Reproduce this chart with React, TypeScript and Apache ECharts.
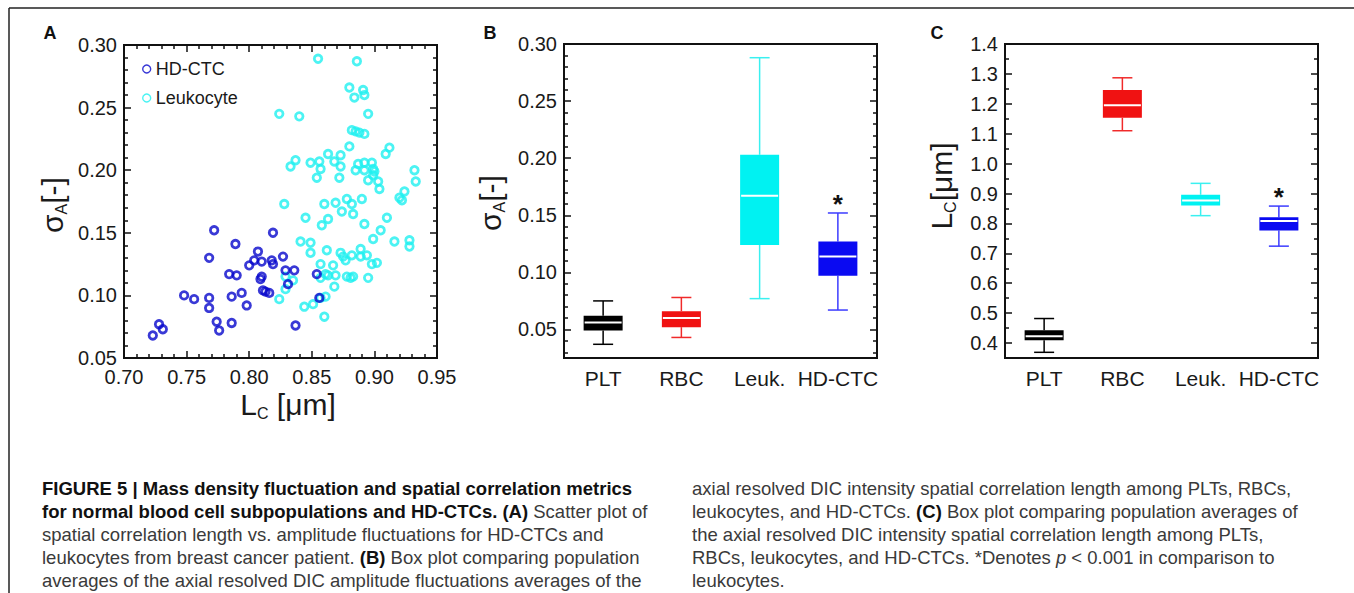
import React, { useEffect, useRef } from "react";
import * as echarts from "echarts";

// ---------- data ----------
const categories = ["PLT", "RBC", "Leuk.", "HD-CTC"];

// Panel A: [Lc (µm), sigma_A]
const hdCtcPoints: [number, number][] = [
  [0.723, 0.068], [0.728, 0.077], [0.731, 0.073], [0.748, 0.100], [0.756, 0.097],
  [0.768, 0.098], [0.768, 0.090], [0.768, 0.130], [0.772, 0.152], [0.774, 0.079],
  [0.776, 0.072], [0.784, 0.117], [0.786, 0.099], [0.786, 0.078], [0.789, 0.141],
  [0.790, 0.116], [0.794, 0.102], [0.798, 0.092], [0.800, 0.124], [0.804, 0.128],
  [0.807, 0.135], [0.809, 0.113], [0.810, 0.115], [0.810, 0.127], [0.811, 0.104],
  [0.813, 0.103], [0.816, 0.102], [0.818, 0.128], [0.819, 0.125], [0.819, 0.150],
  [0.827, 0.131], [0.829, 0.120], [0.831, 0.109], [0.836, 0.120], [0.837, 0.076],
  [0.854, 0.117], [0.856, 0.098],
];

const leukocytePoints: [number, number][] = [
  [0.855, 0.289], [0.886, 0.287], [0.880, 0.266], [0.891, 0.264], [0.892, 0.260],
  [0.884, 0.258], [0.824, 0.245], [0.840, 0.243], [0.895, 0.245], [0.882, 0.232],
  [0.885, 0.231], [0.888, 0.230], [0.892, 0.229], [0.880, 0.219], [0.912, 0.218],
  [0.909, 0.213], [0.863, 0.213], [0.873, 0.212], [0.837, 0.208], [0.833, 0.203],
  [0.849, 0.206], [0.856, 0.207], [0.857, 0.201], [0.854, 0.194], [0.868, 0.207],
  [0.873, 0.203], [0.872, 0.194], [0.887, 0.205], [0.892, 0.206], [0.898, 0.206],
  [0.885, 0.200], [0.892, 0.200], [0.899, 0.201], [0.900, 0.199], [0.895, 0.192],
  [0.899, 0.196], [0.903, 0.191], [0.904, 0.185], [0.932, 0.200], [0.933, 0.191],
  [0.924, 0.183], [0.920, 0.178], [0.922, 0.176], [0.828, 0.173], [0.860, 0.173],
  [0.869, 0.174], [0.878, 0.177], [0.882, 0.173], [0.890, 0.177], [0.874, 0.167],
  [0.883, 0.165], [0.845, 0.162], [0.863, 0.161], [0.858, 0.156], [0.892, 0.157],
  [0.910, 0.162], [0.905, 0.152], [0.899, 0.145], [0.916, 0.143], [0.928, 0.144],
  [0.928, 0.139], [0.841, 0.143], [0.849, 0.142], [0.849, 0.134], [0.862, 0.136],
  [0.873, 0.134], [0.875, 0.131], [0.877, 0.128], [0.882, 0.132], [0.889, 0.137],
  [0.889, 0.131], [0.894, 0.132], [0.898, 0.125], [0.902, 0.126], [0.857, 0.125],
  [0.867, 0.124], [0.861, 0.117], [0.863, 0.116], [0.869, 0.116], [0.878, 0.115],
  [0.881, 0.114], [0.883, 0.115], [0.895, 0.114], [0.868, 0.107], [0.829, 0.115],
  [0.835, 0.112], [0.829, 0.105], [0.824, 0.097], [0.844, 0.091], [0.851, 0.093],
  [0.857, 0.098], [0.861, 0.099], [0.860, 0.083], [0.857, 0.114],
];

// Panels B and C: [min, Q1, median, Q3, max] per category
const sigmaBoxes: number[][] = [
  [0.037, 0.049, 0.056, 0.062, 0.075],
  [0.043, 0.052, 0.060, 0.066, 0.078],
  [0.077, 0.124, 0.167, 0.203, 0.288],
  [0.067, 0.097, 0.114, 0.127, 0.152],
];
const lcBoxes: number[][] = [
  [0.369, 0.409, 0.423, 0.443, 0.482],
  [1.110, 1.153, 1.195, 1.246, 1.287],
  [0.826, 0.860, 0.877, 0.896, 0.934],
  [0.724, 0.776, 0.808, 0.821, 0.858],
];
const sigmaStars = ["", "", "", "*"];
const lcStars = ["", "", "", "*"];

// tick labels
const lcScatterTicks = [0.7, 0.75, 0.8, 0.85, 0.9, 0.95];
const sigmaScatterTicks = [0.05, 0.1, 0.15, 0.2, 0.25, 0.3];
const sigmaBoxTicks = [0.05, 0.1, 0.15, 0.2, 0.25, 0.3];
const lcBoxTicks = [0.4, 0.5, 0.6, 0.7, 0.8, 0.9, 1.0, 1.1, 1.2, 1.3, 1.4];

// ---------- styles ----------
const FONT = '"Liberation Sans", Arial, Helvetica, sans-serif';
const CAP_FONT = '"Liberation Sans", Arial, sans-serif';
const TEXT = "#1a1a1a";
const BLUE_PT = "#0808cc";
const CYAN_PT = "#1ff0f0";
const boxFill = ["#000000", "#f01212", "#00f2f2", "#0a0af2"];
const whiskerColor = ["#000000", "#f02a2a", "#3af0f0", "#3c3cff"];

function minorTicks(lo: number, hi: number, step: number, majors: number[]) {
  const out: number[] = [];
  const n = Math.round((hi - lo) / step);
  for (let k = 0; k <= n; k++) {
    const v = Math.round((lo + k * step) * 10000) / 10000;
    if (!majors.some((m) => Math.abs(m - v) < 1e-6)) out.push(v);
  }
  return out;
}

const tickLine = { color: "#111", width: 1.5 };

function axisSet(
  kind: "x" | "y",
  gridIndex: number,
  min: number,
  max: number,
  majors: number[],
  minors: number[],
  decimals: number,
  sides: [string, string]
) {
  const base = {
    type: "value",
    gridIndex,
    min,
    max,
    splitLine: { show: false },
    axisLine: { show: false },
  };
  const label = {
    show: true,
    customValues: majors,
    formatter: (v: number) => v.toFixed(decimals),
    fontSize: 20,
    color: TEXT,
    fontFamily: FONT,
    margin: kind === "x" ? 9 : 7,
  };
  return [
    { ...base, position: sides[0], axisTick: { show: true, inside: true, length: 7, lineStyle: tickLine, customValues: majors }, axisLabel: label },
    { ...base, position: sides[0], axisTick: { show: true, inside: true, length: 4, lineStyle: tickLine, customValues: minors }, axisLabel: { show: false } },
    { ...base, position: sides[1], axisTick: { show: true, inside: true, length: 7, lineStyle: tickLine, customValues: majors }, axisLabel: { show: false } },
    { ...base, position: sides[1], axisTick: { show: true, inside: true, length: 4, lineStyle: tickLine, customValues: minors }, axisLabel: { show: false } },
  ];
}

function boxRenderer(stars: string[]) {
  return (params: any, api: any) => {
    const i = api.value(0);
    const pMin = api.coord([i, api.value(1)]);
    const yQ1 = api.coord([i, api.value(2)])[1];
    const yMed = api.coord([i, api.value(3)])[1];
    const yQ3 = api.coord([i, api.value(4)])[1];
    const yMax = api.coord([i, api.value(5)])[1];
    const x = pMin[0];
    const yMin = pMin[1];
    const bw = 39;
    const cw = 20;
    const ws = { stroke: whiskerColor[i], lineWidth: 1.5 };
    const children: any[] = [
      { type: "line", shape: { x1: x, y1: yMax, x2: x, y2: yQ3 }, style: ws },
      { type: "line", shape: { x1: x, y1: yQ1, x2: x, y2: yMin }, style: ws },
      { type: "line", shape: { x1: x - cw / 2, y1: yMax, x2: x + cw / 2, y2: yMax }, style: ws },
      { type: "line", shape: { x1: x - cw / 2, y1: yMin, x2: x + cw / 2, y2: yMin }, style: ws },
      { type: "rect", shape: { x: x - bw / 2, y: yQ3, width: bw, height: yQ1 - yQ3 }, style: { fill: boxFill[i] } },
      { type: "line", shape: { x1: x - bw / 2 + 1, y1: yMed, x2: x + bw / 2 - 1, y2: yMed }, style: { stroke: "#ffffff", lineWidth: 2 } },
    ];
    if (stars[i]) {
      children.push({
        type: "text",
        x,
        y: yMax - 9,
        style: { text: stars[i], fontSize: 26, fontWeight: "bold", fill: "#111", align: "center", verticalAlign: "middle", fontFamily: FONT },
      });
    }
    return { type: "group", children };
  };
}

const titleRich = {
  m: { fontSize: 30, lineHeight: 34, fontFamily: FONT, fill: TEXT, verticalAlign: "middle" },
  s: { fontSize: 16, lineHeight: 16, fontFamily: FONT, fill: TEXT, verticalAlign: "bottom" },
};

const captionLeft = [
  "{b|FIGURE 5 | Mass density fluctuation and spatial correlation metrics}",
  "{b|for normal blood cell subpopulations and HD-CTCs. (A)}{r| Scatter plot of}",
  "{r|spatial correlation length vs. amplitude fluctuations for HD-CTCs and}",
  "{r|leukocytes from breast cancer patient. }{b|(B)}{r| Box plot comparing population}",
  "{r|averages of the axial resolved DIC amplitude fluctuations averages of the}",
];
const captionRight = [
  "{r|axial resolved DIC intensity spatial correlation length among PLTs, RBCs,}",
  "{r|leukocytes, and HD-CTCs. }{b|(C)}{r| Box plot comparing population averages of}",
  "{r|the axial resolved DIC intensity spatial correlation length among PLTs,}",
  "{r|RBCs, leukocytes, and HD-CTCs. *Denotes }{i|p}{r| < 0.001 in comparison to}",
  "{r|leukocytes.}",
];
const CAP_SIZE = 18.5;
const capRich = {
  r: { fontSize: CAP_SIZE, fontFamily: CAP_FONT, fill: "#3a3a3a" },
  b: { fontSize: 18.5, fontFamily: CAP_FONT, fill: "#111", fontWeight: "bold" },
  i: { fontSize: CAP_SIZE, fontFamily: CAP_FONT, fill: "#3a3a3a", fontStyle: "italic" },
};

export default function App() {
  const ref = useRef<HTMLDivElement>(null);

  useEffect(() => {
    if (!ref.current) return;
    const chart = echarts.init(ref.current, undefined, { renderer: "svg" });

    const sigmaMinorA = minorTicks(0.05, 0.3, 0.01, sigmaScatterTicks);
    const lcMinorA = minorTicks(0.7, 0.95, 0.01, lcScatterTicks);
    const sigmaMinorB = minorTicks(0.03, 0.3, 0.01, sigmaBoxTicks);
    const lcMinorC = minorTicks(0.45, 1.4, 0.1, lcBoxTicks);

    const gridStyle = { show: true, borderColor: "#111", borderWidth: 2, backgroundColor: "transparent" };

    const catAxis = (gridIndex: number) => ({
      type: "category",
      gridIndex,
      data: categories,
      axisLine: { show: false },
      axisTick: { show: false },
      splitLine: { show: false },
      axisLabel: { interval: 0, fontSize: 21, color: TEXT, fontFamily: FONT, margin: 10 },
    });

    const graphics: any[] = [
      { type: "line", shape: { x1: 9, y1: 8, x2: 1354, y2: 8 }, style: { stroke: "#222", lineWidth: 1.5 } },
      { type: "line", shape: { x1: 9, y1: 8, x2: 9, y2: 593 }, style: { stroke: "#222", lineWidth: 1.5 } },
      { type: "text", x: 50, y: 33, style: { text: "A", fontSize: 18, fontWeight: "bold", fill: "#111", fontFamily: FONT, align: "center", verticalAlign: "middle" } },
      { type: "text", x: 490, y: 33, style: { text: "B", fontSize: 18, fontWeight: "bold", fill: "#111", fontFamily: FONT, align: "center", verticalAlign: "middle" } },
      { type: "text", x: 937, y: 33, style: { text: "C", fontSize: 18, fontWeight: "bold", fill: "#111", fontFamily: FONT, align: "center", verticalAlign: "middle" } },
      { type: "text", x: 52, y: 205, rotation: Math.PI / 2, style: { text: "{m|σ}{s|A}{m|[-]}", rich: titleRich, align: "center", verticalAlign: "middle" } },
      { type: "text", x: 490, y: 203, rotation: Math.PI / 2, style: { text: "{m|σ}{s|A}{m|[-]}", rich: titleRich, align: "center", verticalAlign: "middle" } },
      { type: "text", x: 941, y: 186, rotation: Math.PI / 2, style: { text: "{m|L}{s|C}{m|[μm]}", rich: titleRich, align: "center", verticalAlign: "middle" } },
      { type: "text", x: 288, y: 404, style: { text: "{m|L}{s|C}{m| [μm]}", rich: titleRich, align: "center", verticalAlign: "middle" } },
    ];
    captionLeft.forEach((t, k) => {
      graphics.push({ type: "text", x: 42, y: 488 + k * 23, style: { text: t, rich: capRich, align: "left", verticalAlign: "middle" } });
    });
    captionRight.forEach((t, k) => {
      graphics.push({ type: "text", x: 692, y: 488 + k * 23, style: { text: t, rich: capRich, align: "left", verticalAlign: "middle" } });
    });

    const option: any = {
      animation: false,
      backgroundColor: "#ffffff",
      grid: [
        { left: 124, top: 45, width: 313, height: 313, ...gridStyle },
        { left: 564, top: 44, width: 313, height: 314, ...gridStyle },
        { left: 1005, top: 44, width: 313, height: 314, ...gridStyle },
      ],
      xAxis: [
        ...axisSet("x", 0, 0.7, 0.95, lcScatterTicks, lcMinorA, 2, ["bottom", "top"]),
        catAxis(1),
        catAxis(2),
      ],
      yAxis: [
        ...axisSet("y", 0, 0.05, 0.3, sigmaScatterTicks, sigmaMinorA, 2, ["left", "right"]),
        ...axisSet("y", 1, 0.025, 0.3, sigmaBoxTicks, sigmaMinorB, 2, ["left", "right"]),
        ...axisSet("y", 2, 0.35, 1.4, lcBoxTicks, lcMinorC, 1, ["left", "right"]),
      ],
      legend: {
        data: [
          { name: "HD-CTC", icon: "circle", itemStyle: { color: "rgba(0,0,0,0)", borderColor: BLUE_PT, borderWidth: 1.4 } },
          { name: "Leukocyte", icon: "circle", itemStyle: { color: "rgba(0,0,0,0)", borderColor: CYAN_PT, borderWidth: 1.4 } },
        ],
        orient: "vertical",
        left: 142,
        top: 60,
        padding: 0,
        itemWidth: 8,
        itemHeight: 8,
        itemGap: 11,
        selectedMode: false,
        textStyle: { fontSize: 18, color: TEXT, fontFamily: FONT },
      },
      series: [
        {
          type: "scatter",
          name: "Leukocyte",
          xAxisIndex: 0,
          yAxisIndex: 0,
          data: leukocytePoints,
          symbol: "circle",
          symbolSize: 7.5,
          itemStyle: { color: "rgba(0,0,0,0)", borderColor: CYAN_PT, borderWidth: 2.8 },
          z: 2,
        },
        {
          type: "scatter",
          name: "HD-CTC",
          xAxisIndex: 0,
          yAxisIndex: 0,
          data: hdCtcPoints,
          symbol: "circle",
          symbolSize: 7.5,
          itemStyle: { color: "rgba(0,0,0,0)", borderColor: BLUE_PT, borderWidth: 2.8 },
          z: 3,
        },
        {
          type: "custom",
          name: "sigmaBox",
          xAxisIndex: 4,
          yAxisIndex: 4,
          data: sigmaBoxes.map((b, i) => [i, ...b]),
          encode: { x: 0, y: [1, 2, 3, 4, 5] },
          renderItem: boxRenderer(sigmaStars),
        },
        {
          type: "custom",
          name: "lcBox",
          xAxisIndex: 5,
          yAxisIndex: 8,
          data: lcBoxes.map((b, i) => [i, ...b]),
          encode: { x: 0, y: [1, 2, 3, 4, 5] },
          renderItem: boxRenderer(lcStars),
        },
      ],
      graphic: graphics,
    };

    chart.setOption(option);
    return () => chart.dispose();
  }, []);

  return (
    <div
      ref={ref}
      style={{ position: "absolute", left: 0, top: 0, width: 1354, height: 593, background: "#fff" }}
    />
  );
}
